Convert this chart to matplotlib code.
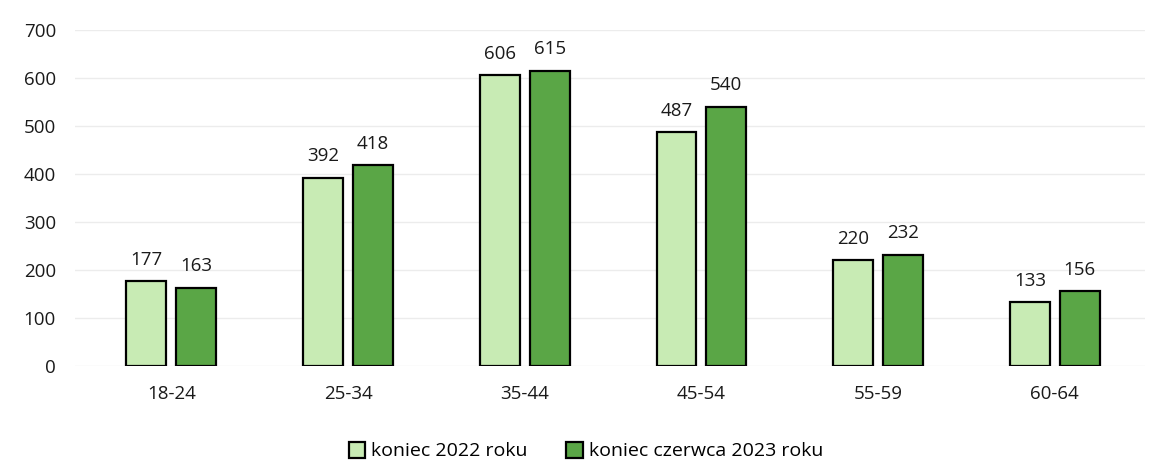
import numpy as np
import matplotlib
matplotlib.use('Agg')
import matplotlib.pyplot as plt

plt.rcParams['font.family'] = ['Open Sans', 'DejaVu Sans']

# dane
age_groups = ["18-24", "25-34", "35-44", "45-54", "55-59", "60-64"]
end_2022 = [177, 392, 606, 487, 220, 133]
end_jun_2023 = [163, 418, 615, 540, 232, 156]
series_labels = ["koniec 2022 roku", "koniec czerwca 2023 roku"]

light = "#c8ebb4"
dark = "#5aa646"

fig = plt.figure(figsize=(11.6, 4.76), dpi=100)
ax = fig.add_axes([0.065, 0.231, 0.922, 0.706])

x = np.arange(len(age_groups))
w = 0.226
off = 0.141
b1 = ax.bar(x - off, end_2022, w, color=light, edgecolor="black", linewidth=1.6,
            label=series_labels[0], zorder=3)
b2 = ax.bar(x + off, end_jun_2023, w, color=dark, edgecolor="black", linewidth=1.6,
            label=series_labels[1], zorder=3)
ax.bar_label(b1, padding=9, fontsize=13.5, color="#1a1a1a")
ax.bar_label(b2, padding=9, fontsize=13.5, color="#1a1a1a")

ax.set_xlim(-0.543, 5.51)
ax.set_ylim(0, 700)
ax.set_yticks(range(0, 701, 100))
ax.set_xticks(x)
ax.set_xticklabels(age_groups)
ax.tick_params(axis="both", length=0, labelsize=13.5, colors="#1a1a1a")
ax.tick_params(axis="x", pad=14)
ax.tick_params(axis="y", pad=14)
ax.yaxis.grid(True, color="#ececec", linewidth=1, zorder=0)
for s in ax.spines.values():
    s.set_visible(False)

fig.legend(handles=[b1, b2], labels=series_labels, loc="center",
           bbox_to_anchor=(0.505, 0.052), ncol=2, frameon=False, fontsize=14,
           handlelength=0.85, handleheight=0.85, handletextpad=0.3, columnspacing=2.0)

plt.savefig("out.png", dpi=100)
plt.close()
